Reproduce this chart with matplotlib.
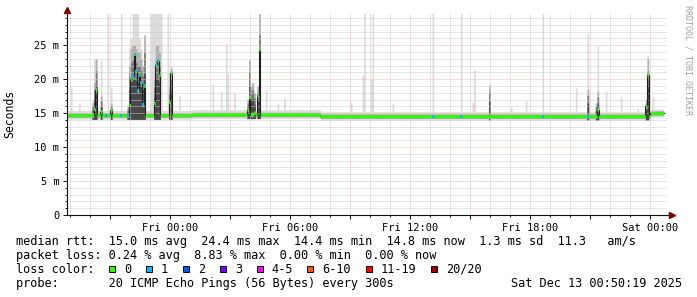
import numpy as np
import matplotlib
matplotlib.use("Agg")
import matplotlib.pyplot as plt
import matplotlib.dates as mdates
from matplotlib.ticker import MultipleLocator, FuncFormatter
from matplotlib.patches import Rectangle
from datetime import datetime, timedelta

plt.rcParams['font.family'] = ['DejaVu Sans Mono', 'DejaVu Sans']

# --- data (5 minute steps starting Thu Dec 11 18:50:19) ---
start = datetime(2025, 12, 11, 18, 50, 19)
n_steps = 360          # 30 hours shown
n_valid = 358          # last two steps not yet filled

# quiet median level and the smoke band around it, per stretch
base_from_step = [0, 75, 152, 350]
base_ms = [14.7, 14.8, 14.55, 15.0]
base_smoke_lo = [14.1, 14.2, 14.0, 14.4]
base_smoke_hi = [15.4, 15.5, 15.2, 15.6]

# median where it leaves the quiet level (ms) and lost pings of 20
spike_steps = [16, 17, 20, 26, 37, 38, 39, 40, 41, 42, 43, 44, 45, 46,
               52, 53, 54, 55, 61, 62, 108, 109, 112, 114, 115, 318, 347, 348]
spike_ms = [15.6, 18.4, 15.2, 15.4, 16.2, 20.0, 20.4, 23.7, 21.2, 18.4, 20.6, 19.5, 16.3, 19.0,
            16.5, 22.1, 22.7, 20.6, 16.6, 20.9, 15.5, 17.3, 15.0, 17.6, 24.4, 15.5, 16.0, 20.6]
spike_loss = [0, 0, 0, 0, 0, 0, 1, 1, 1, 1, 1, 1, 1, 1,
              0, 1, 1, 0, 0, 0, 0, 0, 0, 0, 0, 0, 0, 0]
# one lost ping while the median stayed quiet
lossy_steps = [23, 32, 36, 219, 236, 285, 312]

# slowest ping (light smoke), 30 = off the top
smoke_steps = [2, 7, 15, 16, 17, 20, 24, 26, 32,
               37, 38, 39, 40, 41, 42, 43, 44, 45, 46,
               50, 51, 52, 53, 54, 55, 56, 60, 61, 62,
               67, 87, 92, 95, 96, 100, 108, 109, 110, 111, 112, 114, 115,
               119, 126, 130, 170, 177, 178, 182, 183,
               195, 219, 236, 243, 244, 253, 266, 275, 285,
               305, 312, 317, 318, 323, 332, 342, 347, 348, 351]
smoke_max_ms = [18.9, 16.5, 17.0, 23.0, 23.0, 22.8, 30, 18.7, 30,
                24.7, 26.0, 30, 30, 30, 30, 26.0, 24.5, 22.0, 26.5,
                30, 30, 30, 30, 30, 30, 30, 30, 21.0, 22.0,
                17.6, 19.3, 18.2, 25.2, 20.8, 17.9, 17.0, 22.8, 19.1, 19.5, 18.0, 19.0, 30,
                18.5, 16.5, 17.3, 16.6, 20.6, 30, 20.0, 30,
                16.5, 30, 30, 16.6, 21.4, 19.1, 15.8, 16.8, 30,
                18.7, 26.7, 16.5, 24.9, 18.2, 17.4, 15.7, 17.0, 23.5, 17.5]

# top of the dense (dark) part of the smoke during the slow periods
core_steps = [15, 16, 17, 20, 26, 36, 37, 38, 39, 40, 41, 42, 43, 44, 45, 46,
              52, 53, 54, 55, 61, 62, 108, 109, 110, 111, 112, 114, 115,
              253, 312, 317, 318, 347, 348]
core_top_ms = [16.5, 19.5, 23.0, 17.5, 16.5, 16.0, 22.0, 24.5, 25.0, 25.0, 24.5, 24.0, 24.0, 23.0, 22.0, 26.5,
               20.0, 25.0, 25.0, 24.0, 19.0, 21.6, 17.0, 22.8, 19.1, 19.5, 18.0, 19.0, 29.6,
               19.1, 18.5, 16.5, 18.2, 17.0, 23.0]

loss_labels = ['0', '1', '2', '3', '4-5', '6-10', '11-19', '20/20']
loss_colors = ['#26ff00', '#00b8ff', '#0059ff', '#7e00ff', '#ff00ff', '#ff5500', '#ff0000', '#a10000']

rtt_stats = "median rtt:  15.0 ms avg  24.4 ms max  14.4 ms min  14.8 ms now  1.3 ms sd  11.3   am/s"
loss_stats = "packet loss: 0.24 % avg  8.83 % max  0.00 % min  0.00 % now"
probe_text = "probe:       20 ICMP Echo Pings (56 Bytes) every 300s"
stamp_text = "Sat Dec 13 00:50:19 2025"

# --- build per-step series ---
median = np.full(n_steps, np.nan)
smoke_lo = np.full(n_steps, np.nan)
smoke_hi = np.full(n_steps, np.nan)
for i, s0 in enumerate(base_from_step):
    s1 = base_from_step[i + 1] if i + 1 < len(base_from_step) else n_valid
    median[s0:s1] = base_ms[i]
    smoke_lo[s0:s1] = base_smoke_lo[i]
    smoke_hi[s0:s1] = base_smoke_hi[i]
loss = np.zeros(n_steps, dtype=int)
median[spike_steps] = spike_ms
loss[spike_steps] = spike_loss
loss[lossy_steps] = 1
smoke_hi[smoke_steps] = np.maximum(smoke_hi[smoke_steps], smoke_max_ms)
core = smoke_lo.copy()
core[core_steps] = core_top_ms

t = [start + timedelta(minutes=5 * k) for k in range(n_steps + 1)]
x = mdates.date2num(t)
step_w = x[1] - x[0]
xv = x[:n_valid + 1]


def ext(a):
    a = a[:n_valid]
    return np.append(a, a[-1])


fig = plt.figure(figsize=(6.97, 2.97), dpi=100)
ax = fig.add_axes([67 / 697, 1 - 215 / 297, 600 / 697, 201 / 297])
ax.set_xlim(x[0], x[-1])
ax.set_ylim(0, 29.6)

# smoke
ax.fill_between(xv, ext(smoke_lo), ext(smoke_hi), step='post', color='#dcdcdc', lw=0, zorder=1)
for frac, col in [(1.0, '#b0b0b0'), (0.8, '#7c7c7c'), (0.55, '#484848')]:
    top = smoke_lo + frac * (core - smoke_lo)
    ax.fill_between(xv, ext(smoke_lo), ext(top), step='post', color=col, lw=0, zorder=1.1)
ax.fill_between(xv, ext(median - 0.33), ext(median + 0.33), step='post', color='#a8a8a8', lw=0, zorder=1.2)

# median line and loss-coloured boxes
sw = 0.21
ax.plot(xv, ext(median), drawstyle='steps-post', color='#202020', lw=0.8, zorder=3)
ax.fill_between(xv, ext(median - sw), ext(median + sw), step='post', color=loss_colors[0], lw=0, zorder=3.5)
lossy = np.where(loss[:n_valid] > 0)[0]
ax.bar(x[lossy], 2 * sw, bottom=median[lossy] - sw, width=step_w, align='edge',
       color=[loss_colors[min(loss[k], 7)] for k in lossy], lw=0, zorder=3.6)

# grid / axes in rrdtool style
ax.xaxis.set_minor_locator(mdates.HourLocator())
ax.xaxis.set_major_locator(mdates.HourLocator(byhour=range(0, 24, 3)))
ax.xaxis.set_major_formatter(FuncFormatter(
    lambda v, p: mdates.num2date(v).strftime('%a %H:%M') if mdates.num2date(v).hour % 6 == 0 else ''))
ax.yaxis.set_major_locator(MultipleLocator(5))
ax.yaxis.set_minor_locator(MultipleLocator(1))
ax.yaxis.set_major_formatter(FuncFormatter(lambda v, p: '0' if v == 0 else f'{v:.0f} m'))
ax.set_axisbelow(False)
ax.grid(which='minor', color='#cccccc', ls=(0, (1, 1)), lw=0.72, zorder=2)
ax.grid(which='major', color='#ebbcbc', ls=(0, (1, 1)), lw=0.72, zorder=2)
ax.tick_params(which='major', length=3, width=0.7, color='#101010', labelsize=7.5, pad=2.5)
ax.tick_params(which='minor', length=1.5, width=0.7, color='#101010')
for s in ['top', 'right']:
    ax.spines[s].set_visible(False)
for s in ['left', 'bottom']:
    ax.spines[s].set_color('#101010')
    ax.spines[s].set_linewidth(0.8)
    ax.spines[s].set_zorder(4)
ax.patch.set_facecolor('white')

# axis arrows
ax.plot([0, 0], [1, 1.02], transform=ax.transAxes, clip_on=False, color='#101010', lw=0.8)
ax.plot([1, 1.006], [0, 0], transform=ax.transAxes, clip_on=False, color='#101010', lw=0.8)
ax.plot([0], [1.02], marker='^', ms=4, color='#7f0000', transform=ax.transAxes, clip_on=False)
ax.plot([1.008], [0], marker='>', ms=4, color='#7f0000', transform=ax.transAxes, clip_on=False)

# overlay in pixel coordinates for the legend block
ov = fig.add_axes([0, 0, 1, 1])
ov.set_xlim(0, 697)
ov.set_ylim(297, 0)
ov.axis('off')

ov.text(10, 114, 'Seconds', rotation=90, ha='center', va='center', fontsize=8.3)
ov.text(688, 60, 'RRDTOOL / TOBI OETIKER', rotation=270, ha='center', va='center',
        fontsize=6, color='#a0a0a0')

lfs = 8.6
ov.text(16, 245, rtt_stats, fontsize=lfs, va='baseline')
ov.text(16, 259, loss_stats, fontsize=lfs, va='baseline')
ov.text(16, 272.7, 'loss color:', fontsize=lfs, va='baseline')
box_x = [108.5, 145.5, 182.5, 219.5, 256.5, 306.5, 365.5, 430.5]
for bx, lab, col in zip(box_x, loss_labels, loss_colors):
    ov.add_patch(Rectangle((bx, 265.5), 6.5, 6.5, facecolor=col, edgecolor='black', lw=0.7))
    ov.text(bx + 15.3, 272.7, lab, fontsize=lfs, va='baseline')
ov.text(16, 286.7, probe_text, fontsize=lfs, va='baseline')
ov.text(682, 286.7, stamp_text, fontsize=lfs, va='baseline', ha='right')

fig.savefig('out.png', dpi=100, facecolor='white')
